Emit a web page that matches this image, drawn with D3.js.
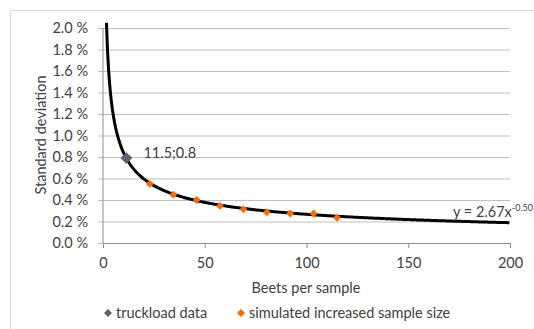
<!DOCTYPE html>
<html>
<head>
<meta charset="utf-8">
<script src="https://cdn.jsdelivr.net/npm/d3@7"></script>
<style>
  body { margin: 0; background: #fff; }
  text { font-family: Lato, "Open Sans", sans-serif; fill: #404040; }
</style>
</head>
<body>
<div id="chart"></div>
<script>
// truckload measurement
const truckX = [11.5];
const truckY = [0.79];
// simulated increased sample size
const simX = [23, 34.5, 46, 57.5, 69, 80.5, 92, 103.5, 115];
const simY = [0.55, 0.45, 0.40, 0.345, 0.315, 0.285, 0.275, 0.275, 0.235];
// power trendline as printed on the chart: y = 2.67 x^-0.50
const trendCoef = 2.67;
const trendExp = -0.5;
const trendExpLabel = '-0.50';
const xTicks = [0, 50, 100, 150, 200];
const yTicks = [0, 0.2, 0.4, 0.6, 0.8, 1.0, 1.2, 1.4, 1.6, 1.8, 2.0];

const W = 534, H = 329;
const FS = 14.5;
const svg = d3.select('#chart').append('svg')
  .attr('width', W).attr('height', H);

// chart frame
svg.append('rect')
  .attr('x', 10.5).attr('y', 10.5)
  .attr('width', W + 20).attr('height', H + 20)
  .attr('fill', 'none').attr('stroke', '#d9d9d9');

const x = d3.scaleLinear().domain([0, 200]).range([103, 510]);
const y = d3.scaleLinear().domain([0, 2.0]).range([243, 28]);

// gridlines + y axis
svg.append('g')
  .attr('transform', 'translate(103,0)')
  .call(d3.axisLeft(y).tickValues(yTicks).tickSize(-(510 - 103)).tickPadding(15)
    .tickFormat(d => d3.format('.1f')(d) + ' %'))
  .call(g => g.select('.domain').remove())
  .call(g => g.selectAll('.tick line').attr('stroke', '#bfbfbf').attr('x1', -5))
  .call(g => g.selectAll('.tick text').attr('font-size', FS).attr('fill', '#404040'));

svg.append('line')
  .attr('x1', 103).attr('x2', 103).attr('y1', 28).attr('y2', 243)
  .attr('stroke', '#8c8c8c');

// x axis
svg.append('g')
  .attr('transform', 'translate(0,243)')
  .call(d3.axisBottom(x).tickValues(xTicks).tickSize(5).tickPadding(10))
  .call(g => g.select('.domain').attr('stroke', '#8c8c8c'))
  .call(g => g.selectAll('.tick line').attr('stroke', '#8c8c8c'))
  .call(g => g.selectAll('.tick text').attr('font-size', FS).attr('fill', '#404040'));

// axis titles
svg.append('text')
  .attr('x', 306).attr('y', 293)
  .attr('text-anchor', 'middle').attr('font-size', FS)
  .text('Beets per sample');

svg.append('text')
  .attr('transform', 'translate(46,135) rotate(-90)')
  .attr('text-anchor', 'middle').attr('font-size', FS)
  .text('Standard deviation');

// trendline
const xs = d3.range(1.7, 200.01, 0.5);
const trendLine = d3.line()
  .x(d => x(d))
  .y(d => y(trendCoef * Math.pow(d, trendExp)));

svg.append('path')
  .datum(xs)
  .attr('fill', 'none')
  .attr('stroke', '#000')
  .attr('stroke-width', 3)
  .attr('d', trendLine);

const diamond = s => d3.symbol().type(d3.symbolDiamond2).size(s)();

// simulated points
svg.selectAll('.sim')
  .data(simX)
  .enter().append('path')
  .attr('class', 'sim')
  .attr('transform', (d, i) => `translate(${x(d)},${y(simY[i])})`)
  .attr('d', diamond(40))
  .attr('fill', '#ff6a00');

// truckload point
svg.selectAll('.truck')
  .data(truckX)
  .enter().append('path')
  .attr('class', 'truck')
  .attr('transform', (d, i) => `translate(${x(d)},${y(truckY[i])})`)
  .attr('d', diamond(90))
  .attr('fill', '#5b636a');

svg.append('text')
  .attr('x', x(truckX[0]) + 17).attr('y', y(truckY[0]) + 0)
  .attr('font-size', FS)
  .text(`${truckX[0]};0.8`);

// trend equation
const eq = svg.append('text')
  .attr('x', 453).attr('y', 217)
  .attr('font-size', FS);
eq.append('tspan').text(`y = ${trendCoef}x`);
eq.append('tspan').attr('font-size', 9).attr('dy', -6).text(trendExpLabel);

// legend
const legend = [
  { label: 'truckload data', color: '#5b636a', x: 108 },
  { label: 'simulated increased sample size', color: '#ff6a00', x: 241 }
];
const lg = svg.selectAll('.lg').data(legend).enter().append('g')
  .attr('transform', d => `translate(${d.x},313)`);
lg.append('path').attr('d', diamond(40)).attr('fill', d => d.color);
lg.append('text').attr('x', 8).attr('y', 5).attr('font-size', FS).text(d => d.label);
</script>
</body>
</html>
